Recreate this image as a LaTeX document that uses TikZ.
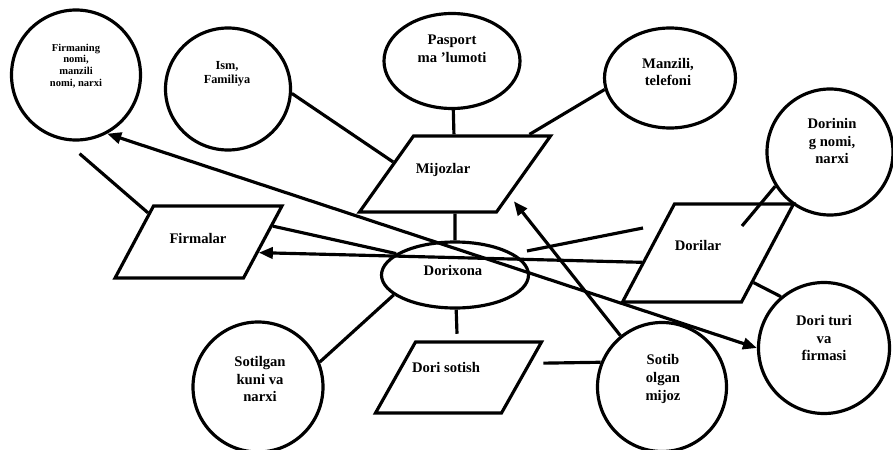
\documentclass[tikz,border=0pt]{standalone}
\usepackage{fontspec}
\setmainfont{Liberation Serif}
\usetikzlibrary{shapes.geometric,arrows.meta}
\tikzset{
  bubble/.style={draw, ellipse, inner sep=0pt},
  slab/.style={draw, trapezium, inner sep=0pt},
  txt/.style={align=center, inner sep=0pt, font=\fontsize{12.5}{15}\selectfont\bfseries},
  arr/.style={-{Triangle[length=0.42cm,width=0.34cm]}},
  arrs/.style={{Triangle[length=0.42cm,width=0.34cm]}-{Triangle[length=0.42cm,width=0.34cm]}},
}
\begin{document}
\begin{tikzpicture}[x=0.03cm, y=-0.03cm, line width=2.7pt]
\useasboundingbox (0,0) rectangle (893,450);
% ovals
\node[bubble, minimum width=3.87cm, minimum height=3.9cm] (firm) at (76,75) {};
\node[bubble, minimum width=3.75cm, minimum height=3.66cm] (ism) at (228,89) {};
\node[bubble, minimum width=4.08cm, minimum height=2.85cm] (pasport) at (452,61) {};
\node[bubble, minimum width=3.93cm, minimum height=3cm] (manzil) at (670,78) {};
\node[bubble, minimum size=3.78cm] (dorinm) at (830,152) {};
\node[bubble, minimum size=3.93cm] (dturi) at (824,348) {};
\node[bubble, minimum size=3.87cm] (sotib) at (662,387) {};
\node[bubble, minimum size=3.9cm] (sotilgan) at (258,387) {};
\node[bubble, minimum width=4.41cm, minimum height=1.98cm] (dorixona) at (455,275) {};
% parallelograms
\node[slab, text width=2.49cm, text height=1.14cm, text depth=1.14cm,
  trapezium left angle=54.6, trapezium right angle=125.4] (mijoz) at (455,174) {};
\node[slab, text width=2.7cm, text height=1.08cm, text depth=1.08cm,
  trapezium left angle=61.9, trapezium right angle=118.1] (firmalar) at (198.5,242) {};
\node[slab, text width=2.01cm, text height=1.47cm, text depth=1.47cm,
  trapezium left angle=62.05, trapezium right angle=117.95] (dorilar) at (708,253) {};
\node[slab, text width=2.58cm, text height=1.065cm, text depth=1.065cm,
  trapezium left angle=60.6, trapezium right angle=119.4] (sotish) at (458.5,377.5) {};
% texts
\node[txt, font=\fontsize{9}{10}\selectfont\bfseries] (firm-t) at (76,66) {Firmaning\\ nomi,\\ manzili\\ nomi, narxi};
\node[txt, font=\fontsize{10.5}{12}\selectfont\bfseries] (ism-t) at (227,74) {Ism,\\ Familiya};
\node[txt] (pasport-t) at (452,49) {Pasport\\ ma 'lumoti};
\node[txt] (manzil-t) at (668,72) {Manzili,\\ telefoni};
\node[txt] (dorinm-t) at (832,141) {Dorinin\\ g nomi,\\ narxi};
\node[txt] (dturi-t) at (824,338) {Dori turi\\ va\\ firmasi};
\node[txt] (sotib-t) at (663,379) {Sotib\\ olgan\\ mijoz};
\node[txt] (sotilgan-t) at (260,379) {Sotilgan\\ kuni va\\ narxi};
\node[txt] (dorixona-t) at (453,270) {Dorixona};
\node[txt] (mijoz-t) at (443,170) {Mijozlar};
\node[txt] (firmalar-t) at (198,238) {Firmalar};
\node[txt] (dorilar-t) at (698,245) {Dorilar};
\node[txt] (sotish-t) at (446,367) {Dori sotish};
% links
\coordinate (dtip) at (643,228);
\coordinate (ntip) at (742,226);
\draw (ism.-4) -- (mijoz.169);
\draw (pasport) -- (mijoz);
\draw (manzil.190) -- (mijoz.28);
\draw (mijoz) -- (dorixona);
\draw[shorten <=0.6cm] (firm.-100) -- (firmalar.150);
\draw (dorixona.160) -- (firmalar.12);
\draw[arr] (dorilar.188) -- (firmalar.-10);
\draw[arrs] (firm.-62) -- (dturi.180);
\draw[shorten <=0.4cm] (dorixona.20) -- (dtip);
\draw (dorinm.212) -- (ntip);
\draw (dorilar.-33) -- (dturi.130);
\draw[arr, shorten >=0.2cm] (sotib.129) -- (mijoz.-22);
\draw (sotilgan.22) -- (dorixona.198);
\draw[shorten >=0.2cm] (dorixona) -- (sotish);
\draw[shorten <=0.36cm] (sotish.11) -- (sotib.158);
\end{tikzpicture}
\end{document}
